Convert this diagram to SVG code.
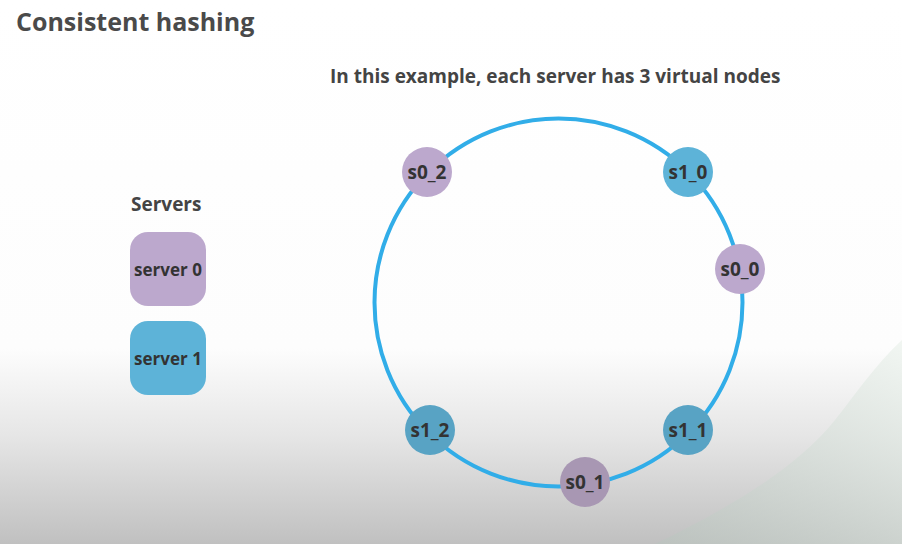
<svg xmlns="http://www.w3.org/2000/svg" width="902" height="544" viewBox="0 0 902 544">
<defs>
<linearGradient id="bg" x1="0" y1="0" x2="0" y2="1">
<stop offset="0" stop-color="#ffffff"/>
<stop offset="0.64" stop-color="#fdfdfd"/>
<stop offset="0.8" stop-color="#e6e6e6"/>
<stop offset="1" stop-color="#c0c0c0"/>
</linearGradient>
<linearGradient id="gr" x1="1" y1="0" x2="0" y2="1">
<stop offset="0" stop-color="#eef4ef" stop-opacity="0.8"/>
<stop offset="1" stop-color="#b8c4bd" stop-opacity="0.5"/>
</linearGradient>
<style>
text{font-family:"Open Sans","Noto Sans","Liberation Sans",sans-serif;font-weight:bold;}
.title{font-size:25px;fill:#4a4a4a;}
.sub{font-size:19px;fill:#444444;}
.lbl{font-size:19px;fill:#333333;text-anchor:middle;dominant-baseline:central;}
.slbl{font-size:17px;fill:#333333;text-anchor:middle;dominant-baseline:central;}
.p{fill:#bca8cd;}
.b{fill:#5db3d8;}
.ring{fill:none;stroke:#31ade8;stroke-width:4;}
</style>
</defs>
<rect x="0" y="0" width="902" height="544" fill="url(#bg)"/>
<path d="M902 340 C875 365 855 395 835 420 C795 470 725 510 655 544 L902 544 Z" fill="url(#gr)"/>
<text class="title" x="16" y="31">Consistent hashing</text>
<text class="sub" x="330" y="83">In this example, each server has 3 virtual nodes</text>
<text class="sub" x="131" y="211">Servers</text>
<g id="server0"><rect class="p" x="130" y="232" width="76" height="74" rx="18"/><text class="slbl" x="168" y="269">server 0</text></g>
<g id="server1"><rect class="b" x="130" y="321" width="76" height="74" rx="18"/><text class="slbl" x="168" y="358">server 1</text></g>
<g id="connectors"><circle class="ring" cx="558.5" cy="302.5" r="184"/></g>
<g id="s0_2"><circle class="p" cx="427" cy="172" r="25"/><text class="lbl" x="427" y="172">s0_2</text></g>
<g id="s1_0"><circle class="b" cx="688" cy="172" r="25"/><text class="lbl" x="688" y="172">s1_0</text></g>
<g id="s0_0"><circle class="p" cx="740" cy="269" r="25"/><text class="lbl" x="740" y="269">s0_0</text></g>
<g id="s1_2"><circle class="b" cx="430" cy="430" r="25" style="fill:#58a3c4"/><text class="lbl" x="430" y="430">s1_2</text></g>
<g id="s1_1"><circle class="b" cx="688" cy="430" r="25" style="fill:#58a3c4"/><text class="lbl" x="688" y="430">s1_1</text></g>
<g id="s0_1"><circle class="p" cx="585" cy="482" r="25" style="fill:#a897b3"/><text class="lbl" x="585" y="482">s0_1</text></g>
</svg>
